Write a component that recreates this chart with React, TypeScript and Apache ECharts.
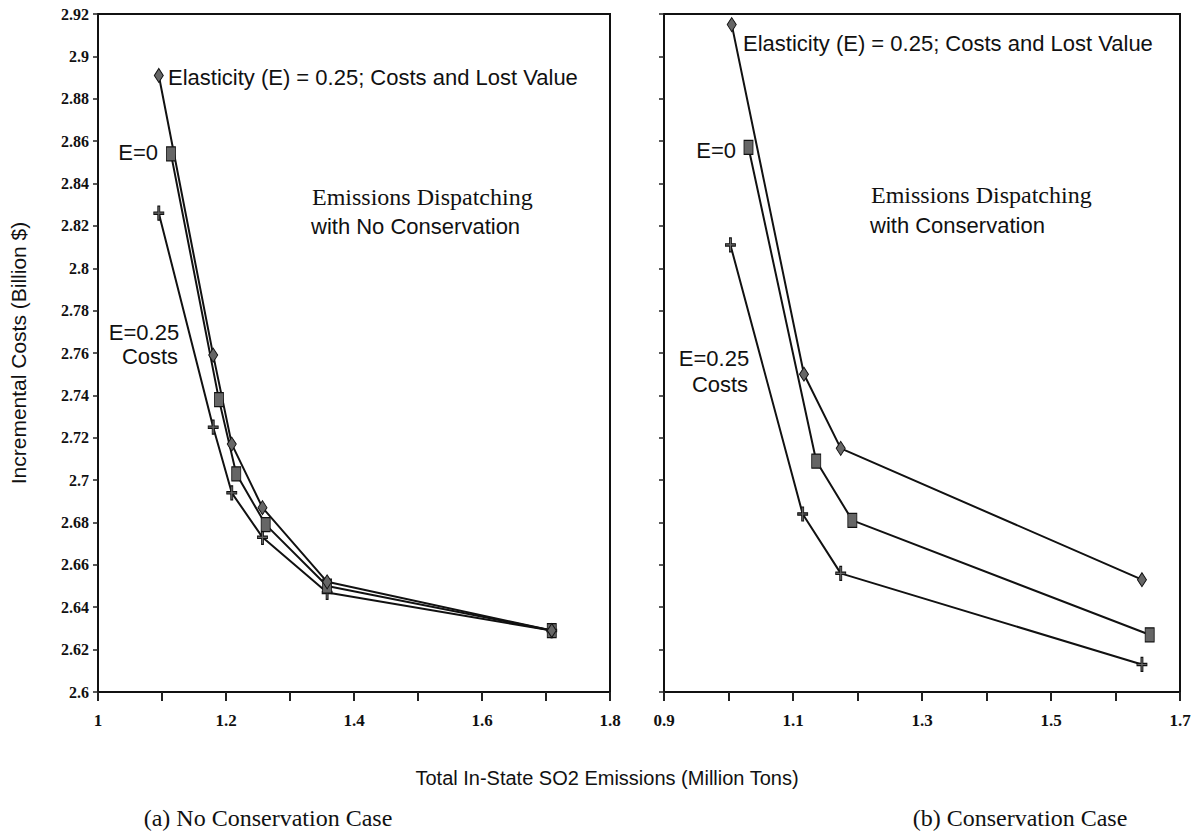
import React, { useEffect, useRef } from "react";
import * as echarts from "echarts";

// Panel (a): No Conservation
const leftDiamondX = [1.095, 1.18, 1.209, 1.257, 1.358, 1.709];
const leftDiamondY = [2.891, 2.759, 2.717, 2.687, 2.652, 2.629];
const leftSquareX = [1.114, 1.189, 1.216, 1.262, 1.358, 1.709];
const leftSquareY = [2.854, 2.738, 2.703, 2.679, 2.65, 2.629];
const leftCrossX = [1.095, 1.18, 1.209, 1.257, 1.358, 1.709];
const leftCrossY = [2.826, 2.725, 2.694, 2.673, 2.647, 2.629];

// Panel (b): Conservation
const rightDiamondX = [1.005, 1.117, 1.174, 1.641];
const rightDiamondY = [2.915, 2.75, 2.715, 2.653];
const rightSquareX = [1.031, 1.136, 1.192, 1.653];
const rightSquareY = [2.857, 2.709, 2.681, 2.627];
const rightCrossX = [1.003, 1.115, 1.174, 1.641];
const rightCrossY = [2.811, 2.684, 2.656, 2.613];

const yMin = 2.6;
const yMax = 2.92;
const yStep = 0.02;
const leftXMin = 1.0;
const leftXMax = 1.8;
const rightXMin = 0.9;
const rightXMax = 1.7;
const xStep = 0.1;

const yAxisTitle = "Incremental Costs (Billion $)";
const xAxisTitle = "Total In-State SO2 Emissions (Million Tons)";
const captionA = "(a) No Conservation Case";
const captionB = "(b) Conservation Case";
const labelTop = "Elasticity (E) = 0.25; Costs and Lost Value";
const labelE0 = "E=0";
const labelE025 = "E=0.25";
const labelCosts = "Costs";
const boxLine1 = "Emissions Dispatching";
const boxLine2A = "with No Conservation";
const boxLine2B = "with Conservation";

const zip = (xs: number[], ys: number[]) => xs.map((x, i) => [x, ys[i]]);

const SANS = "'Liberation Sans', Arial, sans-serif";
const SERIF = "'Liberation Serif', 'Times New Roman', serif";

const crossPath = "path://M4,0H6V5H10V7H6V12H4V7H0V5H4Z";

function lineSeries(data: number[][], symbol: string, size: number[], gi: number) {
  return {
    type: "line",
    xAxisIndex: gi,
    yAxisIndex: gi,
    data,
    symbol,
    symbolSize: size,
    showAllSymbol: true,
    lineStyle: { color: "#111", width: 2 },
    itemStyle: { color: "#666", borderColor: "#111", borderWidth: 1 },
    z: 3,
  };
}

function xAxis(gi: number, min: number, max: number, parity: number) {
  return {
    type: "value",
    gridIndex: gi,
    min,
    max,
    interval: xStep,
    axisLine: { show: true, lineStyle: { color: "#111", width: 2 } },
    axisTick: { show: true, inside: false, length: 9, lineStyle: { color: "#222", width: 2 } },
    splitLine: { show: false },
    axisLabel: {
      margin: 20,
      color: "#111",
      fontFamily: SERIF,
      fontWeight: "bold",
      fontSize: 17,
      formatter: (v: number) => {
        const k = Math.round(v * 10);
        return k % 2 === parity ? String(Number(v.toFixed(1))) : "";
      },
    },
  };
}

function yAxis(gi: number, showLabels: boolean) {
  return {
    type: "value",
    gridIndex: gi,
    min: yMin,
    max: yMax,
    interval: yStep,
    axisLine: { show: true, lineStyle: { color: "#111", width: 2 } },
    axisTick: { show: true, inside: false, length: 5, lineStyle: { color: "#222", width: 1.5 } },
    splitLine: { show: false },
    axisLabel: {
      show: showLabels,
      margin: 9,
      color: "#111",
      fontFamily: SERIF,
      fontWeight: "bold",
      fontSize: 16,
      formatter: (v: number) => String(Number(v.toFixed(2))),
    },
  };
}

function txt(text: string, x: number, y: number, font: string, size: number, align = "left", rotation = 0) {
  return {
    type: "text",
    x,
    y,
    rotation,
    style: {
      text,
      fill: "#111",
      font: `${size}px ${font}`,
      align,
      verticalAlign: "middle",
    },
    z: 10,
  };
}

export default function App() {
  const ref = useRef<HTMLDivElement>(null);
  useEffect(() => {
    if (!ref.current) return;
    const chart = echarts.init(ref.current, undefined, { renderer: "svg" });
    const option = {
      animation: false,
      backgroundColor: "#fff",
      grid: [
        { left: 98, top: 14, width: 512, height: 678, show: true, borderColor: "#111", borderWidth: 2 },
        { left: 664, top: 14, width: 516, height: 678, show: true, borderColor: "#111", borderWidth: 2 },
      ],
      xAxis: [xAxis(0, leftXMin, leftXMax, 0), xAxis(1, rightXMin, rightXMax, 1)],
      yAxis: [yAxis(0, true), yAxis(1, false)],
      series: [
        lineSeries(zip(leftCrossX, leftCrossY), crossPath, [10, 14], 0),
        lineSeries(zip(leftSquareX, leftSquareY), "rect", [9, 14], 0),
        lineSeries(zip(leftDiamondX, leftDiamondY), "diamond", [9, 14], 0),
        lineSeries(zip(rightCrossX, rightCrossY), crossPath, [10, 14], 1),
        lineSeries(zip(rightSquareX, rightSquareY), "rect", [9, 14], 1),
        lineSeries(zip(rightDiamondX, rightDiamondY), "diamond", [9, 14], 1),
      ],
      graphic: [
        txt(yAxisTitle, 18, 353, SANS, 21, "center", Math.PI / 2),
        txt(xAxisTitle, 607, 778, SANS, 20, "center"),
        txt(captionA, 268, 818, SERIF, 24, "center"),
        txt(captionB, 1020, 818, SERIF, 24, "center"),
        // panel a annotations
        txt(labelTop, 168, 77, SANS, 22),
        txt(labelE0, 158, 152, SANS, 22, "right"),
        txt(boxLine1, 312, 197, SERIF, 24),
        txt(boxLine2A, 311, 226, SANS, 22),
        txt(labelE025, 144, 332, SANS, 22, "center"),
        txt(labelCosts, 150, 356, SANS, 22, "center"),
        // panel b annotations
        txt(labelTop, 743, 43, SANS, 22),
        txt(labelE0, 736, 150, SANS, 22, "right"),
        txt(boxLine1, 871, 195, SERIF, 24),
        txt(boxLine2B, 870, 225, SANS, 22),
        txt(labelE025, 714, 358, SANS, 22, "center"),
        txt(labelCosts, 720, 384, SANS, 22, "center"),
      ],
    };
    chart.setOption(option as any);
    return () => chart.dispose();
  }, []);
  return (
    <div
      ref={ref}
      style={{ position: "fixed", left: 0, top: 0, width: 1198, height: 835, background: "#fff" }}
    />
  );
}
